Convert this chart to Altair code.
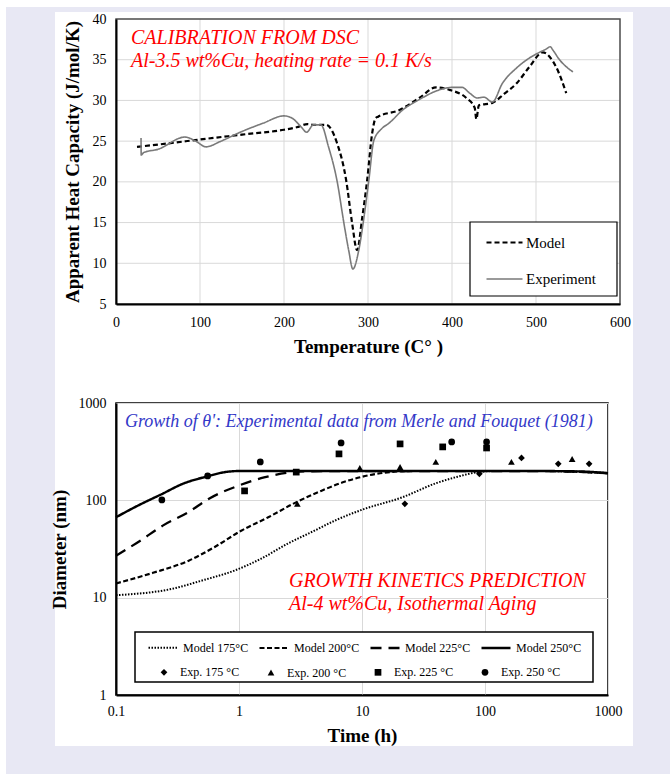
import altair as alt
import pandas as pd

FONT = "Liberation Serif"

# ---------------- Top chart data (DSC calibration) ----------------
model_T = [25, 60, 100, 150, 200, 215, 228, 235, 250, 263, 274, 281, 287, 293, 299, 305, 309, 312,
           337, 361, 381, 397, 417, 427, 429, 432, 448, 462, 477, 492, 508, 524, 536]
model_Cp = [24.3, 24.7, 25.2, 25.8, 26.4, 26.7, 27.1, 27.0, 27.0, 24.8, 20.2, 15.0, 11.6, 15.5, 20.2, 26.0, 27.8, 28.0,
            28.8, 30.3, 31.6, 31.3, 30.3, 29.1, 27.7, 29.4, 29.7, 30.8, 32.1, 34.1, 35.9, 34.1, 30.9]

exp_T = [29.8, 30, 33, 50, 82, 95, 107, 125, 148, 175, 200, 210, 220, 227, 235, 244, 253, 263, 272, 277,
         282, 289, 295, 301, 307, 316, 325, 341, 361, 385, 400, 412, 421, 430, 438, 448, 460, 477, 492,
         504, 512, 517, 520, 528, 544]
exp_Cp = [25.4, 23.3, 23.6, 24.0, 25.5, 25.0, 24.3, 25.0, 26.1, 27.2, 28.1, 27.8, 26.8, 26.1, 27.0, 27.0,
          24.3, 20.2, 14.5, 11.6, 9.3, 11.6, 15.5, 20.2, 25.1, 26.5, 27.2, 28.8, 30.1, 31.3, 31.6, 31.6,
          30.9, 30.3, 30.4, 29.8, 32.1, 34.0, 35.2, 35.9, 36.3, 36.6, 36.2, 35.0, 33.5]

top_series = ["Model", "Experiment"]
temp_ticks = [0, 100, 200, 300, 400, 500, 600]
cp_ticks = [5, 10, 15, 20, 25, 30, 35, 40]

# ---------------- Bottom chart data (growth kinetics) ----------------
m175_t = [0.1, 0.3, 0.5, 0.92, 1.5, 2.5, 4, 6.2, 10, 21.5, 40, 60, 88, 120, 300, 1000]
m175_d = [10.6, 12.5, 15, 19, 25, 36, 48, 63, 80, 108, 150, 175, 195, 200, 200, 190]
m200_t = [0.1, 0.2, 0.39, 0.63, 1.05, 1.73, 2.8, 4.65, 7.2, 13.4, 25, 100, 300, 1000]
m200_d = [14, 18, 24, 33, 49, 67, 93, 125, 155, 188, 200, 200, 200, 190]
m225_t = [0.1, 0.16, 0.24, 0.39, 0.57, 1.0, 1.6, 2.5, 4, 10, 100, 300, 1000]
m225_d = [27, 39, 55, 76, 104, 142, 172, 192, 199, 200, 200, 200, 190]
m250_t = [0.1, 0.15, 0.236, 0.35, 0.55, 0.75, 1.0, 2, 10, 100, 300, 600, 1000]
m250_d = [67, 88, 116, 148, 176, 194, 200, 200, 200, 200, 200, 198, 190]

e175_t = [22.3, 90, 198, 394, 702]
e175_d = [92, 187, 273, 237, 237]
e200_t = [2.98, 9.6, 20.4, 39.8, 164, 511]
e200_d = [92, 215, 220, 248, 248, 266]
e225_t = [1.11, 2.92, 6.5, 20.4, 45.3, 103]
e225_d = [125, 195, 300, 380, 354, 345]
e250_t = [0.236, 0.556, 1.49, 6.76, 53.6, 103]
e250_d = [101, 178, 248, 389, 398, 398]

model_names = ["Model 175°C", "Model 200°C", "Model 225°C", "Model 250°C"]
exp_names = ["Exp. 175 °C", "Exp. 200 °C", "Exp. 225 °C", "Exp. 250 °C"]
time_ticks = [0.1, 1, 10, 100, 1000]
diam_ticks = [1, 10, 100, 1000]

# ---------------- Build tables ----------------
top_rows = []
for i, (t, c) in enumerate(zip(model_T, model_Cp)):
    top_rows.append({"series": "Model", "T": t, "Cp": c, "idx": i})
for i, (t, c) in enumerate(zip(exp_T, exp_Cp)):
    top_rows.append({"series": "Experiment", "T": t, "Cp": c, "idx": i})
top_df = pd.DataFrame(top_rows)

line_rows = []
for name, ts, ds in zip(model_names, [m175_t, m200_t, m225_t, m250_t], [m175_d, m200_d, m225_d, m250_d]):
    for i, (t, d) in enumerate(zip(ts, ds)):
        line_rows.append({"model": name, "t": t, "d": d, "idx": i})
lines_df = pd.DataFrame(line_rows)

pt_rows = []
for name, ts, ds in zip(exp_names, [e175_t, e200_t, e225_t, e250_t], [e175_d, e200_d, e225_d, e250_d]):
    for t, d in zip(ts, ds):
        pt_rows.append({"exp": name, "t": t, "d": d})
pts_df = pd.DataFrame(pt_rows)

one = pd.DataFrame({"a": [0]})

# ---------------- Sizes ----------------
W_TOP, H_TOP = 504, 285
W_BOT, H_BOT = 492, 292
SPACING = 99
TOP_Y = 19    # top plot's top edge in the page
LEFT_X = 116  # plot left edge in the page

# ---------------- Page decoration (drawn in the top chart, behind everything) ----------------
def page_rect(color, x0, y0, x1, y1):
    return alt.Chart(one).mark_rect(color=color).encode(
        x=alt.value(x0 - LEFT_X), x2=alt.value(x1 - LEFT_X),
        y=alt.value(y0 - TOP_Y), y2=alt.value(y1 - TOP_Y))

decor = [
    page_rect("white", 0, 0, 670, 774),
    page_rect("#E8E8F4", 6, 7, 670, 774),
    page_rect("white", 55, 12, 633, 746),
]

def txt(text, x, y, color, size):
    return alt.Chart(pd.DataFrame({"t": [text]})).mark_text(
        align="left", baseline="alphabetic", font=FONT, fontStyle="italic", fontSize=size, color=color
    ).encode(text="t:N", x=alt.value(x), y=alt.value(y))

def box(x0, y0, x1, y1, stroke="black", width=1.2):
    return alt.Chart(one).mark_rect(fill="white", stroke=stroke, strokeWidth=width).encode(
        x=alt.value(x0), x2=alt.value(x1), y=alt.value(y0), y2=alt.value(y1))

# ---------------- Top chart ----------------
x_top = alt.X("T:Q", scale=alt.Scale(domain=[0, 600], nice=False),
              axis=alt.Axis(values=temp_ticks, title="Temperature (C° )", labelPadding=11, titlePadding=8,
                            grid=False, zindex=1, labelFlush=False))
y_top = alt.Y("Cp:Q", scale=alt.Scale(domain=[5, 40], nice=False, zero=False),
              axis=alt.Axis(values=cp_ticks, title="Apparent Heat Capacity (J/mol/K)", labelPadding=10,
                            titlePadding=10, grid=False, zindex=1))

top_legend = alt.Legend(title=None, orient="none", legendX=369, legendY=204, direction="vertical",
                        symbolType="stroke", symbolSize=1296, symbolStrokeWidth=2,
                        labelFont=FONT, labelFontSize=15, labelColor="black", labelOffset=2,
                        padding=0, rowPadding=9)

grid_x = alt.Chart(pd.DataFrame({"T": temp_ticks})).mark_rule(color="#d9d9d9", strokeWidth=1).encode(x=x_top)
grid_y = alt.Chart(pd.DataFrame({"Cp": cp_ticks})).mark_rule(color="#d9d9d9", strokeWidth=1).encode(y=y_top)

top_lines = alt.Chart(top_df).mark_line(interpolate="monotone").encode(
    x=x_top, y=y_top,
    color=alt.Color("series:N", scale=alt.Scale(domain=top_series, range=["black", "#7a7a7a"]), legend=top_legend),
    strokeDash=alt.StrokeDash("series:N", scale=alt.Scale(domain=top_series, range=[[5, 3], [1, 0]]), legend=top_legend),
    strokeWidth=alt.StrokeWidth("series:N", scale=alt.Scale(domain=top_series, range=[2.2, 1.6]), legend=None),
    order="idx:Q",
)

top_frame = alt.Chart(one).mark_rect(fill=None, stroke="#505050", strokeWidth=1.5).encode(
    x=alt.value(0), x2=alt.value(W_TOP), y=alt.value(0), y2=alt.value(H_TOP))

top = alt.layer(
    *decor, grid_x, grid_y, top_lines, top_frame,
    box(354, 203, 501, 277),
    txt("CALIBRATION FROM DSC", 15, 25, "#FF0000", 20),
    txt("Al-3.5 wt%Cu, heating rate = 0.1 K/s", 15, 48, "#FF0000", 20),
).properties(width=W_TOP, height=H_TOP)

# ---------------- Bottom chart ----------------
xb = alt.X("t:Q", scale=alt.Scale(type="log", domain=[0.1, 1000], nice=False),
           axis=alt.Axis(values=time_ticks, format="~g", title="Time (h)", labelPadding=9, titlePadding=8,
                         labelFlush=False))
yb = alt.Y("d:Q", scale=alt.Scale(type="log", domain=[1, 1000], nice=False),
           axis=alt.Axis(values=diam_ticks, format="~g", title="Diameter (nm)", labelPadding=10, titlePadding=9))

bot_lines = alt.Chart(lines_df).mark_line(interpolate="monotone", color="black").encode(
    x=xb, y=yb,
    strokeDash=alt.StrokeDash("model:N", scale=alt.Scale(domain=model_names,
                                                         range=[[1.5, 1.5], [5, 2.5], [11, 7], [1, 0]]),
                              legend=alt.Legend(title=None, orient="none", legendX=31, legendY=229, columns=4,
                                                symbolType="stroke", symbolSize=841, symbolStrokeWidth=2,
                                                symbolStrokeColor="black",
                                                labelFont=FONT, labelFontSize=12, labelColor="black", labelOffset=4,
                                                columnPadding=5, gridAlign="all", padding=0)),
    strokeWidth=alt.StrokeWidth("model:N", scale=alt.Scale(domain=model_names, range=[2, 2.4, 2.4, 2.4]), legend=None),
    order="idx:Q",
)

bot_pts = alt.Chart(pts_df).mark_point(filled=True, color="black", size=45, opacity=1).encode(
    x=xb, y=yb,
    shape=alt.Shape("exp:N", scale=alt.Scale(domain=exp_names, range=["diamond", "triangle-up", "square", "circle"]),
                    legend=alt.Legend(title=None, orient="none", legendX=31, legendY=263, columns=4,
                                      symbolSize=45, symbolFillColor="black", symbolStrokeColor="black",
                                      symbolOffset=11, labelOffset=10,
                                      labelFont=FONT, labelFontSize=12, labelColor="black",
                                      columnPadding=14, gridAlign="all", padding=0)),
)

bottom = alt.layer(
    bot_lines, bot_pts, box(19, 229, 477, 279, width=1.5),
    txt("Growth of θ': Experimental data from Merle and Fouquet (1981)", 9, 24, "#3338C8", 18),
    txt("GROWTH KINETICS PREDICTION", 173, 184, "#FF0000", 20),
    txt("Al-4 wt%Cu, Isothermal Aging", 173, 207, "#FF0000", 20),
).properties(width=W_BOT, height=H_BOT, view=alt.ViewBackground(stroke="black", strokeWidth=1.5))

chart = alt.vconcat(top, bottom, spacing=SPACING, bounds="flush").resolve_scale(
    color="independent", strokeDash="independent", strokeWidth="independent", shape="independent"
).resolve_legend(
    color="independent", strokeDash="independent", shape="independent"
).properties(
    padding=0, background="white"
).configure_view(stroke=None).configure_axis(
    labelFont=FONT, titleFont=FONT, labelFontSize=14, titleFontSize=19, titleFontWeight="bold",
    labelColor="black", titleColor="black", ticks=False, gridColor="#d9d9d9", gridWidth=1,
    domainColor="black", domainWidth=2,
)

chart.save("out.html", embed_options={"renderer": "svg", "actions": False})
